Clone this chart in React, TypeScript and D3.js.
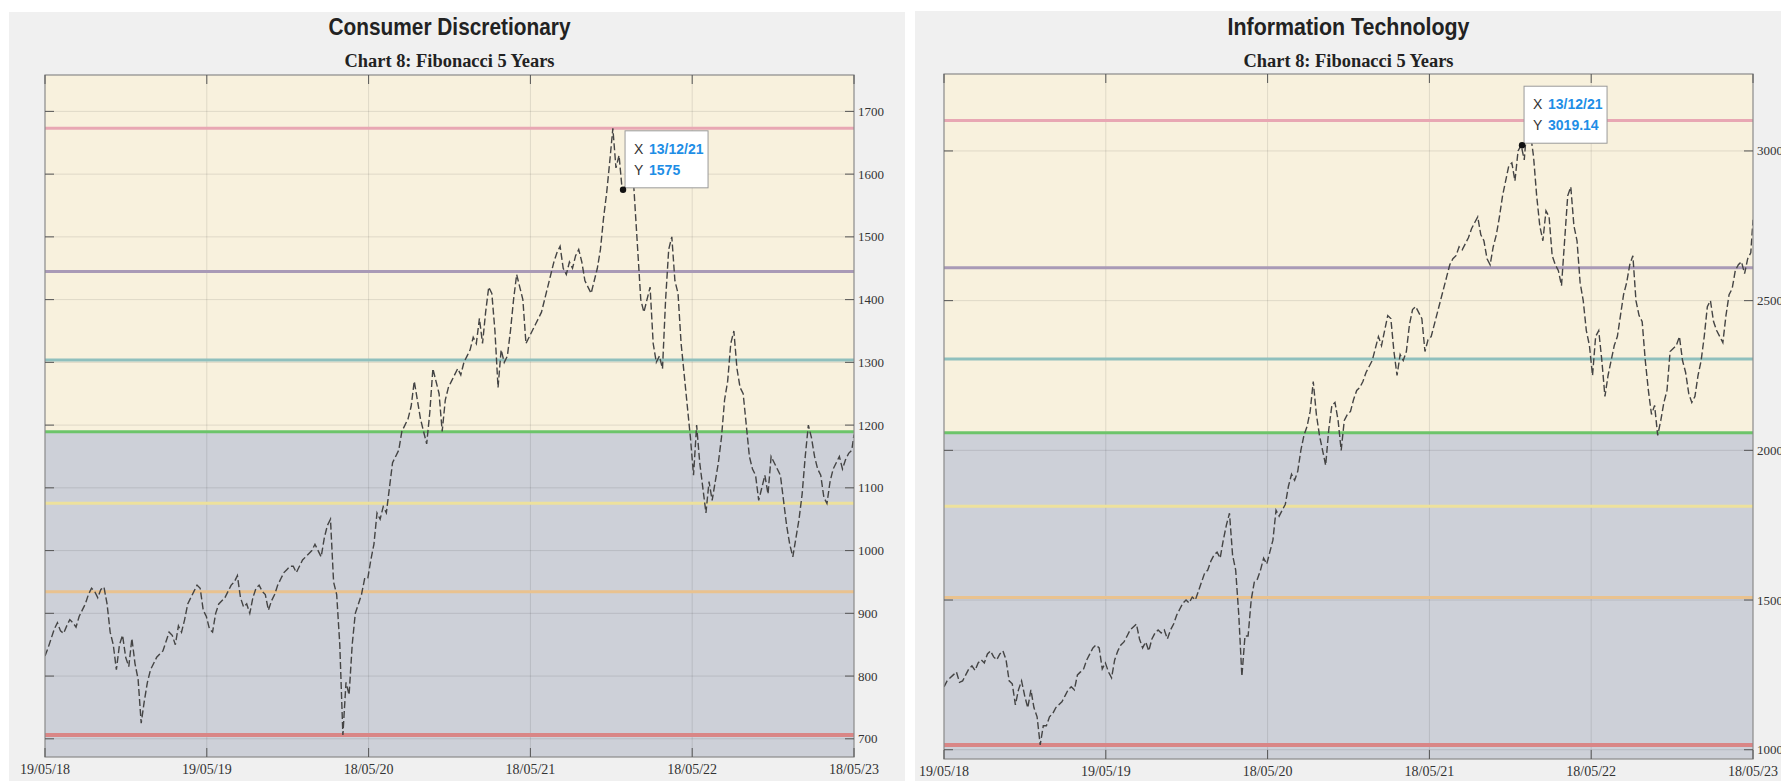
import * as d3 from "d3";

// weekly closes from 19/05/18, last value is 18/05/23
const consumerValues = [
  832, 845, 860, 875, 885, 872, 868, 880, 890, 885, 878, 895, 905, 915, 930, 940, 935, 925, 938, 942, 915, 870, 850, 810, 850, 865, 830, 815, 860, 820, 795, 725, 760,
  790, 810, 820, 830, 835, 840, 855, 870, 865, 850, 880, 870, 890, 915, 925, 935, 945, 940, 905, 895, 875, 870, 900, 915, 920, 925, 935, 945, 950, 960, 925, 910, 915, 900, 925, 940, 945, 935, 930, 905, 920, 930, 945, 955, 965, 970, 975, 975, 965, 975, 985, 990,
  995, 1000, 1010, 1000, 990, 1020, 1040, 1050, 950, 930, 850, 706, 790, 770, 850, 900, 915, 930, 955, 955, 985, 1010, 1060, 1050, 1070, 1060, 1100, 1140, 1150, 1160, 1190, 1200, 1210, 1230, 1270, 1240, 1210, 1190, 1170, 1220, 1290, 1270, 1250, 1190, 1240, 1260, 1270, 1280, 1290, 1280, 1300, 1310,
  1320, 1340, 1330, 1370, 1330, 1380, 1420, 1410, 1350, 1260, 1320, 1300, 1310, 1350, 1400, 1440, 1420, 1400, 1330, 1340, 1350, 1360, 1370, 1380, 1400, 1420, 1440, 1460, 1475, 1485, 1450, 1440, 1460, 1450, 1470, 1480, 1460, 1430, 1420, 1410, 1430, 1450, 1480, 1530, 1570, 1620, 1673, 1610, 1630, 1575, 1580, 1610, 1640,
  1560, 1480, 1400, 1380, 1400, 1420, 1330, 1300, 1310, 1290, 1400, 1480, 1500, 1430, 1410, 1330, 1280, 1230, 1180, 1120, 1200, 1140, 1100, 1060, 1110, 1080, 1110, 1140, 1180, 1240, 1270, 1330, 1350, 1290, 1260, 1250, 1200, 1150, 1130, 1120, 1080, 1100, 1120, 1090, 1150, 1140, 1130, 1120, 1080, 1040, 1010, 990,
  1020, 1050, 1090, 1150, 1200, 1180, 1150, 1130, 1120, 1085, 1075, 1110, 1130, 1140, 1150, 1130, 1145, 1155, 1160, 1185,
];

const techValues = [
  1210, 1230, 1240, 1250, 1260, 1225, 1230, 1250, 1270, 1280, 1265, 1290, 1300, 1290, 1320, 1330, 1310, 1300, 1320, 1330, 1300, 1230, 1220, 1150, 1200, 1230, 1180, 1140, 1200, 1140, 1110, 1016, 1080,
  1080, 1110, 1120, 1140, 1150, 1160, 1180, 1200, 1210, 1200, 1250, 1260, 1270, 1300, 1320, 1340, 1350, 1340, 1270, 1290, 1260, 1240, 1300, 1330, 1350, 1360, 1380, 1400, 1410, 1420, 1370, 1340, 1360, 1330, 1370, 1390, 1400, 1390, 1400, 1370, 1400, 1420, 1450, 1470, 1490, 1500, 1490, 1510, 1500, 1530, 1560, 1590,
  1600, 1630, 1650, 1660, 1640, 1700, 1750, 1790, 1650, 1600, 1450, 1245, 1380, 1380, 1500, 1560, 1570, 1600, 1640, 1620, 1660, 1700, 1800, 1780, 1800, 1820, 1880, 1920, 1900, 1930, 2000, 2050, 2080, 2130, 2230, 2120, 2050, 2000, 1950, 2070, 2150, 2160, 2100, 2000, 2100, 2120, 2130, 2170, 2200, 2210, 2230, 2260,
  2280, 2300, 2340, 2380, 2350, 2400, 2450, 2440, 2330, 2250, 2320, 2300, 2330, 2420, 2470, 2480, 2460, 2440, 2330, 2370, 2380, 2420, 2460, 2500, 2540, 2580, 2620, 2640, 2650, 2680, 2670, 2690, 2710, 2740, 2760, 2780, 2720, 2700, 2640, 2620, 2680, 2720, 2780, 2850, 2900, 2950, 2960, 2900, 3000, 3019, 2970, 3102, 3060,
  2980, 2850, 2750, 2700, 2800, 2780, 2650, 2620, 2600, 2550, 2700, 2850, 2880, 2750, 2700, 2560, 2500, 2400, 2350, 2250, 2380, 2400, 2300, 2180, 2250, 2300, 2350, 2380, 2450, 2520, 2560, 2620, 2650, 2500, 2450, 2430, 2300, 2200, 2120, 2150, 2050, 2100, 2160, 2200, 2330, 2340, 2350, 2380, 2300, 2260, 2190, 2160,
  2180, 2250, 2300, 2380, 2480, 2500, 2430, 2400, 2380, 2360, 2450, 2520, 2540, 2600, 2620, 2630, 2590, 2640, 2660, 2770,
];

const START = new Date(2018, 4, 19);
const END = new Date(2023, 4, 18);
const xTickDates = [
  new Date(2018, 4, 19),
  new Date(2019, 4, 19),
  new Date(2020, 4, 18),
  new Date(2021, 4, 18),
  new Date(2022, 4, 18),
  new Date(2023, 4, 18),
];

const consumerTicks = [700, 800, 900, 1000, 1100, 1200, 1300, 1400, 1500, 1600, 1700];
const techTicks = [1000, 1500, 2000, 2500, 3000];
const consumerLimits = [671, 1758];
const techLimits = [969, 3257];

const tipDate = new Date(2021, 11, 13);
const consumerTip = 1575;
const techTip = 3019.14;

const fibRatios = [0, 0.236, 0.382, 0.5, 0.618, 0.764, 1];
const fibColors = ["#e8a7b3", "#a99ab6", "#8fc0bd", "#6cc46a", "#ede19c", "#e9c28f", "#d98686"];

const fmtDate = d3.timeFormat("%d/%m/%y");

type PanelProps = {
  title: string;
  values: number[];
  ticks: number[];
  limits: number[];
  tip: number;
  tipText: string;
  bg: [number, number, number, number];
  plot: [number, number, number, number];
  id: string;
};

const Panel = ({ title, values, ticks, limits, tip, tipText, bg, plot, id }: PanelProps) => {
  const [x0, y0, x1, y1] = plot;
  const x = d3.scaleTime().domain([START, END]).range([x0, x1]);
  const y = d3.scaleLinear().domain(limits).range([y1, y0]);
  const dates = values.map((_, i) =>
    i === values.length - 1 ? END : d3.timeDay.offset(START, 7 * i)
  );
  const hi = d3.max(values)!;
  const lo = d3.min(values)!;
  const levels = fibRatios.map((r) => hi - r * (hi - lo));
  const mid = y(levels[3]);
  const path = d3
    .line<number>()
    .x((_, i) => x(dates[i]))
    .y((v) => y(v))(values);
  const cx = (x0 + x1) / 2;
  const tx = x(tipDate);
  const ty = y(tip);

  return (
    <g>
      <rect x={bg[0]} y={bg[1]} width={bg[2] - bg[0]} height={bg[3] - bg[1]} fill="#f0f0f0" />
      <text x={cx} y={35} textAnchor="middle" fontFamily="'Liberation Sans Narrow', 'Liberation Sans', Arial, sans-serif"
        fontWeight="bold" fontSize={24} fill="#222" textLength={title.length * 11} lengthAdjust="spacingAndGlyphs">
        {title}
      </text>
      <text x={cx} y={67} textAnchor="middle" fontFamily="'Liberation Serif', 'DejaVu Serif', serif"
        fontWeight="bold" fontSize={18} fill="#222" textLength={210} lengthAdjust="spacingAndGlyphs">
        Chart 8: Fibonacci 5 Years
      </text>
      <defs>
        <clipPath id={id}>
          <rect x={x0} y={y0} width={x1 - x0} height={y1 - y0} />
        </clipPath>
      </defs>
      <rect x={x0} y={y0} width={x1 - x0} height={mid - y0} fill="#f8f1dd" />
      <rect x={x0} y={mid} width={x1 - x0} height={y1 - mid} fill="#cdd0d8" />
      {ticks.map((t) => (
        <line key={"h" + t} x1={x0} x2={x1} y1={y(t)} y2={y(t)} stroke="#000" strokeOpacity={0.1} />
      ))}
      {xTickDates.slice(1, -1).map((d) => (
        <line key={"v" + d.getTime()} x1={x(d)} x2={x(d)} y1={y0} y2={y1} stroke="#000" strokeOpacity={0.1} />
      ))}
      {levels.map((l, i) => (
        <line key={"f" + i} x1={x0} x2={x1} y1={y(l)} y2={y(l)} stroke={fibColors[i]}
          strokeWidth={i === 6 ? 4 : 3} />
      ))}
      <path d={path || undefined} fill="none" stroke="#444" strokeWidth={1.4}
        strokeDasharray="7,3" clipPath={`url(#${id})`} />
      <rect x={x0} y={y0} width={x1 - x0} height={y1 - y0} fill="none" stroke="#8a8a8a" strokeWidth={1.2} />
      {ticks.map((t) => (
        <g key={"t" + t}>
          <line x1={x0} x2={x0 + 9} y1={y(t)} y2={y(t)} stroke="#555" />
          <line x1={x1 - 9} x2={x1} y1={y(t)} y2={y(t)} stroke="#555" />
          <text x={x1 + 4} y={y(t)} dy="0.35em" fontFamily="'Liberation Serif', 'DejaVu Serif', serif"
            fontSize={13} fill="#333">
            {t}
          </text>
        </g>
      ))}
      {xTickDates.map((d) => (
        <g key={"x" + d.getTime()}>
          <line x1={x(d)} x2={x(d)} y1={y1 - 9} y2={y1} stroke="#555" />
          <line x1={x(d)} x2={x(d)} y1={y0} y2={y0 + 9} stroke="#555" />
          <text x={x(d)} y={y1 + 17} textAnchor="middle" fontFamily="'Liberation Serif', 'DejaVu Serif', serif"
            fontSize={14} fill="#333">
            {fmtDate(d)}
          </text>
        </g>
      ))}
      <g>
        <rect x={tx + 2} y={ty - 59} width={83} height={57} fill="#fff" stroke="#9a9a9a" />
        <text x={tx + 11} y={ty - 36} fontFamily="'Liberation Sans', Arial, sans-serif" fontSize={14} fill="#333">X</text>
        <text x={tx + 26} y={ty - 36} fontFamily="'Liberation Sans', Arial, sans-serif" fontSize={14}
          fontWeight="bold" fill="#1e8ee6">{fmtDate(tipDate)}</text>
        <text x={tx + 11} y={ty - 15} fontFamily="'Liberation Sans', Arial, sans-serif" fontSize={14} fill="#333">Y</text>
        <text x={tx + 26} y={ty - 15} fontFamily="'Liberation Sans', Arial, sans-serif" fontSize={14}
          fontWeight="bold" fill="#1e8ee6">{tipText}</text>
        <circle cx={tx} cy={ty} r={3.2} fill="#111" />
      </g>
    </g>
  );
};

export default function App() {
  return (
    <svg width={1781} height={781} style={{ position: "absolute", left: 0, top: 0, background: "#fff" }}>
      <Panel id="cd" title="Consumer Discretionary" values={consumerValues} ticks={consumerTicks}
        limits={consumerLimits} tip={consumerTip} tipText="1575"
        bg={[9, 12, 905, 781]} plot={[45, 75, 854, 757]} />
      <Panel id="it" title="Information Technology" values={techValues} ticks={techTicks}
        limits={techLimits} tip={techTip} tipText="3019.14"
        bg={[915, 11, 1781, 781]} plot={[944, 74, 1753, 759]} />
    </svg>
  );
}
